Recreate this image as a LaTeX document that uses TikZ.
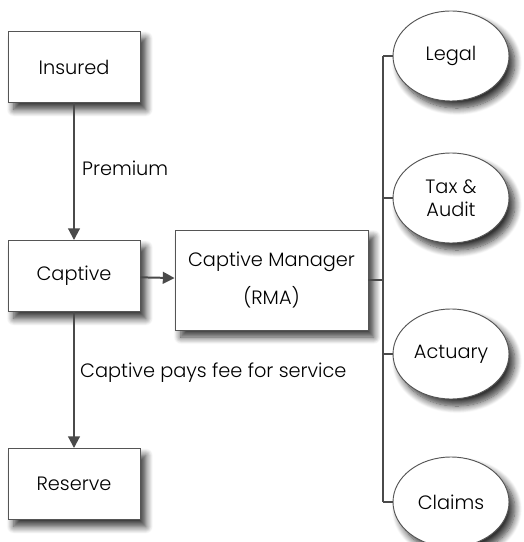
\documentclass[tikz,border=0pt]{standalone}
\usepackage{fontspec}
\setmainfont{Poppins Light}
\usetikzlibrary{shapes.geometric, positioning, arrows.meta, shadows.blur}
\definecolor{LineGray}{HTML}{4A4A4A}
\definecolor{EdgeGray}{HTML}{555555}

\tikzset{
  box/.style={draw=EdgeGray, line width=0.8pt, fill=white, minimum width=132*0.03cm,
    minimum height=71*0.03cm, inner sep=0pt,
    blur shadow={shadow xshift=5pt, shadow yshift=-6pt, shadow blur radius=6pt,
      shadow blur steps=10, shadow opacity=80}},
  oval/.style={ellipse, draw=EdgeGray, line width=0.8pt, fill=white, minimum width=116*0.03cm,
    minimum height=90*0.03cm, inner sep=0pt, align=center,
    blur shadow={shadow xshift=5pt, shadow yshift=-6pt, shadow blur radius=6pt,
      shadow blur steps=10, shadow opacity=80}},
  flow/.style={LineGray, line width=1.7pt, -{Triangle[length=10pt, width=10pt]}},
  bus/.style={LineGray, line width=1.7pt}
}

\begin{document}
\begin{tikzpicture}[x=0.03cm, y=-0.03cm, font=\fontsize{16.5}{20}\selectfont]
  \useasboundingbox (0,0) rectangle (523,542);

  % Left column
  \node[box] (insured) at (74, 67) {Insured};
  \node[box] (captive) at (74, 276) {Captive};
  \node[box] (reserve) at (74, 484) {Reserve};

  % Manager
  \node[box, minimum width=193*0.03cm, minimum height=100*0.03cm, align=center,
    font=\fontsize{16.5}{33}\selectfont] (rma) at (271.5, 280) {Captive Manager\\(RMA)};

  % Service providers
  \node[oval] (legal) at (451, 56) {Legal};
  \node[oval, font=\fontsize{16.5}{20}\selectfont] (tax) at (451, 198) {Tax \&\\Audit};
  \node[oval] (actuary) at (451, 354) {Actuary};
  \node[oval] (claims) at (451, 502) {Claims};

  % Bus joints
  \coordinate (jl) at (383, 56);
  \coordinate (jt) at (383, 198);
  \coordinate (jr) at (383, 280);
  \coordinate (ja) at (383, 354);
  \coordinate (jc) at (383, 502);

  % Flows
  \draw[flow] (insured) -- (captive);
  \draw[flow] (captive) -- (rma);
  \draw[flow] (captive) -- (reserve);

  % Labels
  \node[anchor=west] (premium) at (78, 168) {Premium};
  \node[anchor=west] (fee) at (76, 373) {Captive pays fee for service};

  % Bus to providers
  \draw[bus] (jl) -- (jc);
  \draw[bus] (rma.east) -- (jr);
  \draw[bus] (jl) -- (legal.west);
  \draw[bus] (jt) -- (tax.west);
  \draw[bus] (ja) -- (actuary.west);
  \draw[bus] (jc) -- (claims.west);
\end{tikzpicture}
\end{document}
